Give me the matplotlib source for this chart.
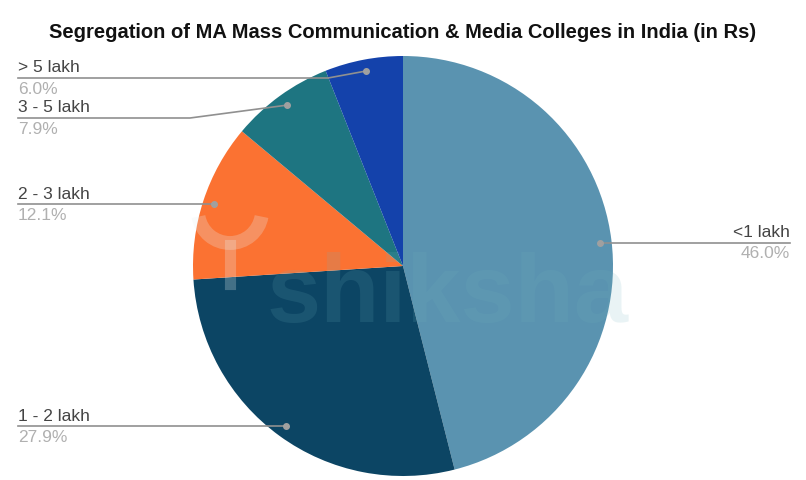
import numpy as np
import matplotlib
matplotlib.use('Agg')
from matplotlib import pyplot as plt
from matplotlib.patches import Arc

# data
labels = ['<1 lakh', '1 - 2 lakh', '2 - 3 lakh', '3 - 5 lakh', '> 5 lakh']
shares = [46.0, 27.9, 12.1, 7.9, 6.0]
colors = ['#5a93b0', '#0c4564', '#fb7232', '#1e7581', '#1442ab']

plt.rcParams['font.family'] = ['Liberation Sans', 'DejaVu Sans']

W, H = 806, 481
fig = plt.figure(figsize=(W / 100, H / 100), dpi=100)
ax = fig.add_axes([0, 0, 1, 1])

cx, cy, R = 403, H - 267, 210
wedges, _ = ax.pie(shares, colors=colors, startangle=90, counterclock=False,
                   center=(cx, cy), radius=R, frame=True,
                   wedgeprops=dict(linewidth=0))
ax.set_xlim(0, W)
ax.set_ylim(0, H)
ax.set_aspect('equal')
ax.axis('off')

# faint watermark (logo + word)
wm = '#6fb3bd'
ax.add_patch(Arc((230, H - 212), 64, 64, theta1=190, theta2=350, lw=10,
                 color='#e8f1f2', alpha=0.25, zorder=5))
ax.plot([230, 230], [H - 246, H - 285], color='#e8f1f2', lw=8, alpha=0.25, zorder=5)
ax.text(448, H - 297, 'shiksha', fontsize=70, fontweight='bold', color=wm,
        alpha=0.15, ha='center', va='center', zorder=5)

fig.text(0.5, 1 - 32 / H, 'Segregation of MA Mass Communication & Media Colleges in India (in Rs)',
         ha='center', va='center', fontsize=14.5, fontweight='bold', color='#111111')

# label layout: (side, line y, elbow x)
layout = {
    '<1 lakh': ('right', 244, None),
    '1 - 2 lakh': ('left', None, None),
    '2 - 3 lakh': ('left', None, None),
    '3 - 5 lakh': ('left', 119, 190),
    '> 5 lakh': ('left', 79, 328),
}

line_c = '#909090'
for w, lab, s in zip(wedges, labels, shares):
    mid = np.deg2rad((w.theta1 + w.theta2) / 2)
    dx = cx + 0.945 * R * np.cos(mid)
    dy = cy + 0.945 * R * np.sin(mid)
    side, ly, ex = layout[lab]
    ly = dy if ly is None else H - ly
    if side == 'right':
        dy = ly
        xs, ys = [dx, 790], [dy, ly]
        tx, ha = 790, 'right'
    else:
        if ex is None:
            xs, ys = [18, dx], [ly, dy]
        else:
            xs, ys = [18, ex, dx], [ly, ly, dy]
        tx, ha = 18, 'left'
    ax.plot(xs, ys, color=line_c, lw=1.2, zorder=6)
    ax.plot(dx, dy, 'o', color='#a0a0a0', ms=4, zorder=7)
    ax.text(tx, ly + 3.5, lab, ha=ha, va='bottom', fontsize=12.5, color='#444444', zorder=8)
    ax.text(tx, ly - 2.5, '%.1f%%' % s, ha=ha, va='top', fontsize=12.5, color='#b0b0b0', zorder=8)

fig.savefig('out.png', dpi=100, facecolor='white')
